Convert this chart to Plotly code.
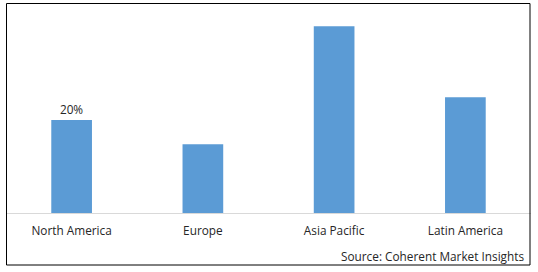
import plotly.graph_objects as go

categories = ["North America", "Europe", "Asia Pacific", "Latin America"]
values = [20, 14.8, 40.2, 24.9]
labels = ["20%", "", "", ""]
source = "Source: Coherent Market Insights"

W, H = 538, 272
ml, mr, mt, mb = 6, 7, 3, 59
ph = H - mt - mb
FS = 11.8
TC = "#262626"

fig = go.Figure()
fig.add_trace(go.Bar(
    x=categories, y=values, text=labels, textposition="outside",
    textfont=dict(family="Open Sans", size=FS, color=TC),
    marker=dict(color="#5B9BD5", line=dict(width=0)),
    cliponaxis=False,
))

fig.update_layout(
    width=W, height=H,
    margin=dict(l=ml, r=mr, t=mt, b=mb),
    paper_bgcolor="white", plot_bgcolor="white",
    bargap=0.69, showlegend=False,
    font=dict(family="Open Sans", size=FS, color=TC),
    xaxis=dict(showline=True, linecolor="#D9D9D9", linewidth=1,
               showgrid=False, ticks="", tickfont=dict(size=FS, color=TC),
               ticklabelstandoff=7),
    yaxis=dict(range=[0, 45.2], visible=False, showgrid=False),
)

pw = W - ml - mr
fig.add_shape(type="rect", xref="paper", yref="paper",
              x0=(6.5 - ml) / pw, x1=(530 - ml) / pw,
              y0=(H - mb - 265) / ph, y1=(H - mb - 3.5) / ph,
              line=dict(color="black", width=1), fillcolor="rgba(0,0,0,0)")

fig.add_annotation(text=source, xref="paper", yref="paper",
                   x=(526 - ml) / pw, y=(H - mb - 256) / ph,
                   xanchor="right", yanchor="middle", showarrow=False,
                   font=dict(family="Open Sans", size=FS, color=TC))

fig.write_html("out.html")
